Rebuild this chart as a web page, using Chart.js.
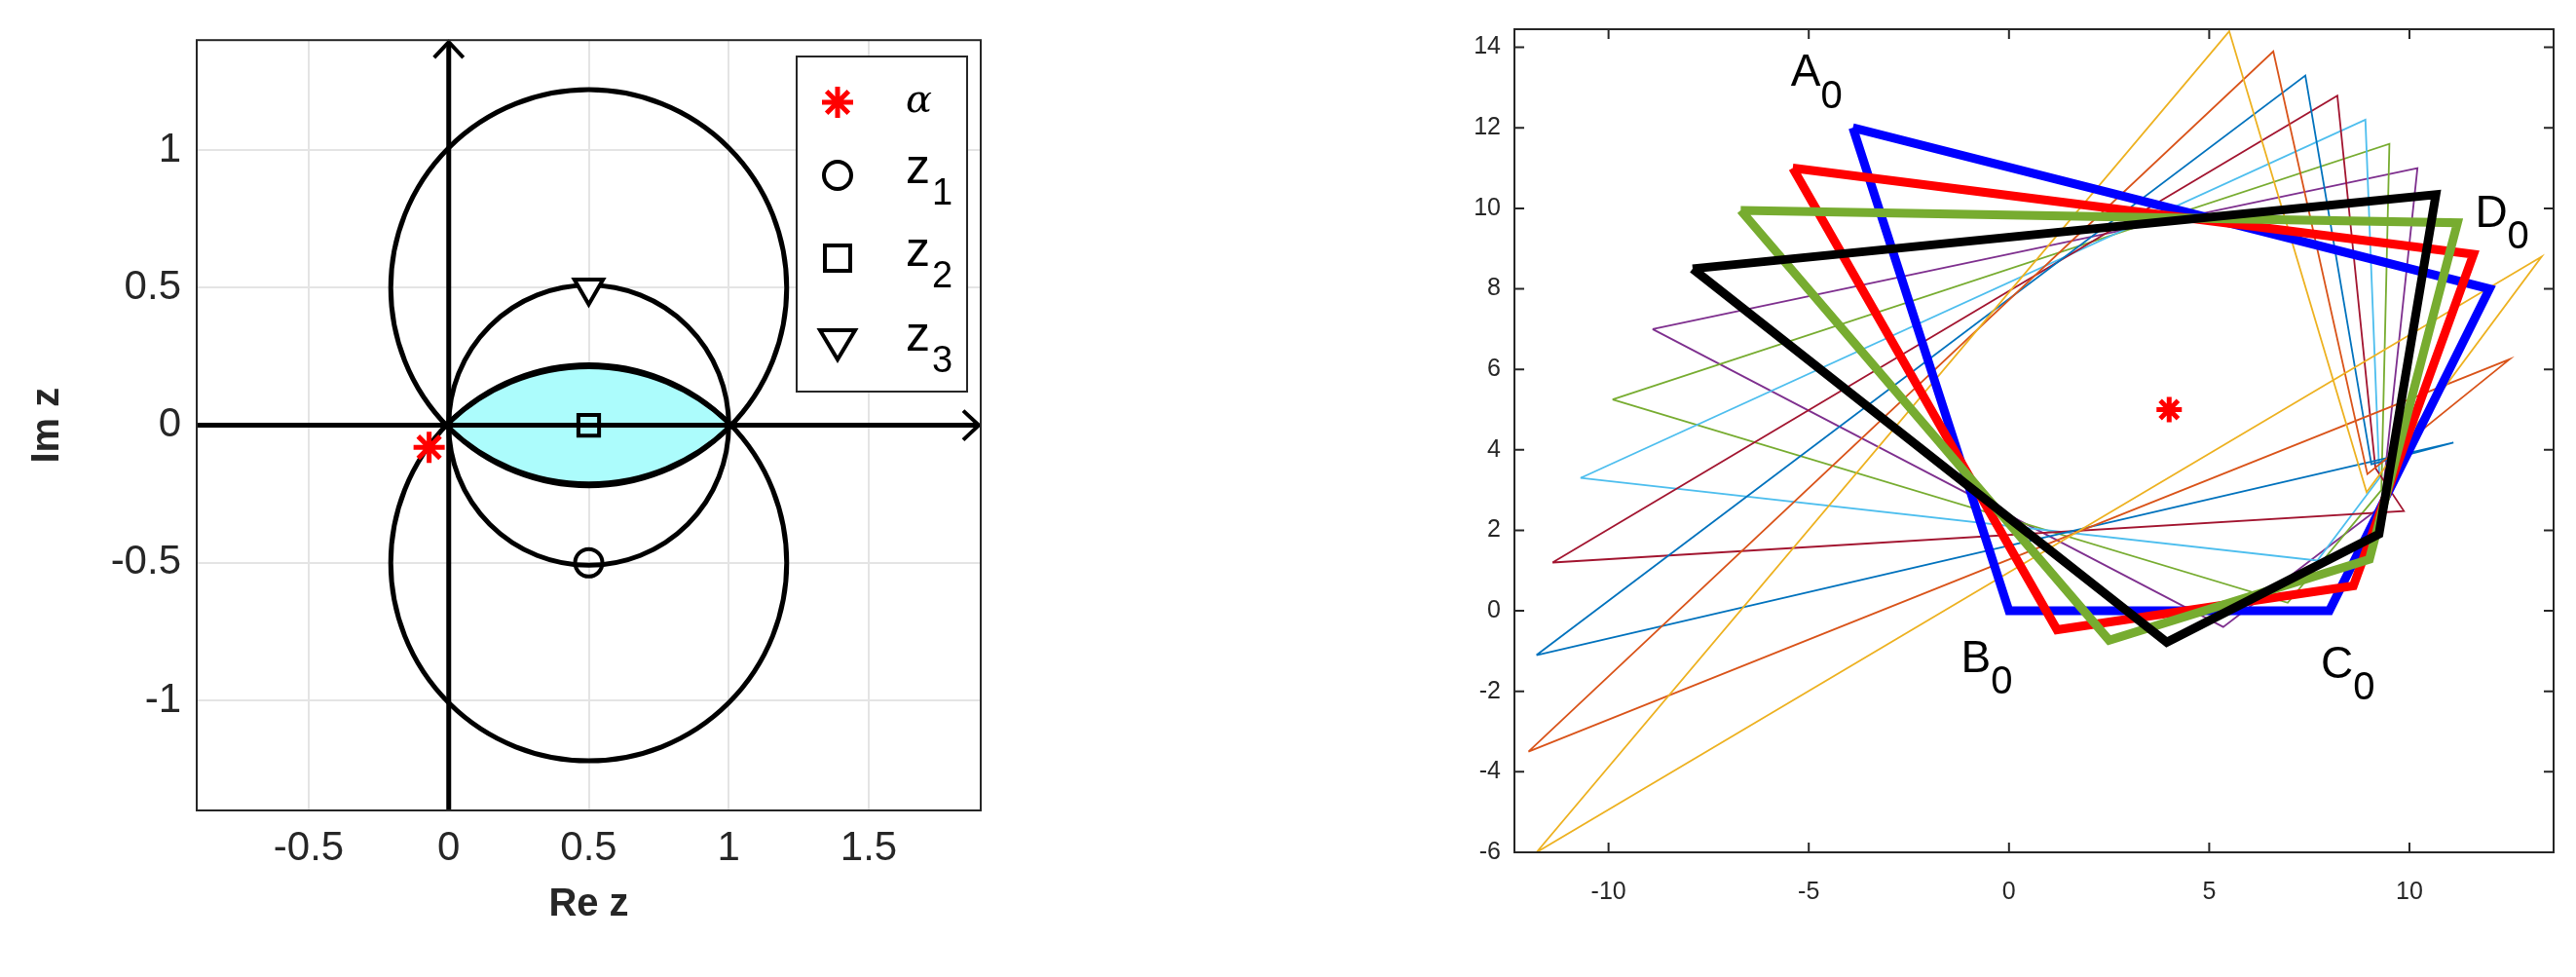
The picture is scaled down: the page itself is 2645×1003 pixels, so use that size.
<!DOCTYPE html>
<html>
<head>
<meta charset="utf-8">
<script src="https://cdn.jsdelivr.net/npm/chart.js@4"></script>
<style>
  body { margin: 0; background: #fff; width: 2645px; height: 1003px; position: relative; overflow: hidden; }
  .pane { position: absolute; top: 0; height: 1003px; }
</style>
</head>
<body>
<div class="pane" style="left:0;width:1030px"><canvas id="left"></canvas></div>
<div class="pane" style="left:1500px;width:1145px"><canvas id="right"></canvas></div>
<script>
// ---- left panel data ----
const leftXTicks = [-0.5, 0, 0.5, 1, 1.5];
const leftYTicks = [-1, -0.5, 0, 0.5, 1];
const alphaPt = [{x: -0.07, y: -0.08}];
const z1Pt = [{x: 0.5, y: -0.5}];
const z2Pt = [{x: 0.5, y: 0}];
const z3Pt = [{x: 0.5, y: 0.5}];
const circleCx = [0.5, 0.5, 0.5];
const circleCy = [0.5, -0.5, 0];
const circleR = [0.707, 0.707, 0.5];
// lens: upper arc from circle below, lower arc from circle above
const lensCy = [-0.525, 0.525];
const lensR = 0.725;

// ---- right panel data ----
const rightXTicks = [-10, -5, 0, 5, 10];
const rightYTicks = [-6, -4, -2, 0, 2, 4, 6, 8, 10, 12, 14];
const thinColors = ['#EDB120', '#D95319', '#0072BD', '#A2142F', '#4DBEEE', '#77AC30', '#7E2F8E'];
const thinQuads = [
  [[-11.8, -6.0], [13.3, 8.8], [8.93, 2.95], [5.5, 14.4]],
  [[-12.0, -3.5], [12.5, 6.25], [8.95, 3.4], [6.6, 13.9]],
  [[-11.8, -1.1], [11.1, 4.18], [9.05, 3.64], [7.4, 13.3]],
  [[-11.4, 1.2], [9.86, 2.48], [9.15, 3.55], [8.2, 12.8]],
  [[-10.7, 3.3], [7.7, 1.25], [9.25, 3.3], [8.9, 12.2]],
  [[-9.9, 5.25], [6.96, 0.2], [9.3, 3.0], [9.5, 11.6]],
  [[-8.9, 7.0], [5.35, -0.4], [9.3, 2.6], [10.2, 11.0]]
];
const thickColors = ['#0000FF', '#FF0000', '#77AC30', '#000000'];
const thickQuads = [
  [[-3.9, 12.0], [0, 0], [8, 0], [12.0, 8.0]],
  [[-5.4, 11.0], [1.2, -0.47], [8.6, 0.62], [11.6, 8.86]],
  [[-6.7, 9.95], [2.5, -0.73], [9.0, 1.28], [11.2, 9.64]],
  [[-7.9, 8.5], [3.94, -0.78], [9.24, 1.91], [10.66, 10.34]]
];
const centerPt = [{x: 4, y: 5}];
const vertexLabels = [
  {t: 'A', x: -4.8, y: 13.15},
  {t: 'B', x: -0.55, y: -1.4},
  {t: 'C', x: 8.5, y: -1.55},
  {t: 'D', x: 12.35, y: 9.65}
];

function closed(q) { return q.concat([q[0]]).map(p => ({x: p[0], y: p[1]})); }

function setTicks(list) {
  return function(scale) { scale.ticks = list.map(v => ({value: v})); };
}

// ---- left panel ----
const leftPlugin = {
  id: 'leftDraw',
  beforeDatasetsDraw(chart) {
    const ctx = chart.ctx, xs = chart.scales.x, ys = chart.scales.y;
    const s = xs.getPixelForValue(1) - xs.getPixelForValue(0);
    const a = chart.chartArea;
    ctx.save();
    // lens
    ctx.beginPath();
    const c1x = xs.getPixelForValue(0.5), c1y = ys.getPixelForValue(lensCy[0]);
    const c2y = ys.getPixelForValue(lensCy[1]);
    const ang = Math.atan2(0.525, 0.5);
    ctx.arc(c1x, c1y, lensR * s, -Math.PI + ang, -ang, false);
    ctx.arc(c1x, c2y, lensR * s, ang, Math.PI - ang, false);
    ctx.closePath();
    ctx.fillStyle = '#acfcfc';
    ctx.fill();
    ctx.lineWidth = 5;
    ctx.strokeStyle = '#000';
    ctx.stroke();
    // circles
    for (let i = 0; i < circleCx.length; i++) {
      ctx.beginPath();
      ctx.arc(xs.getPixelForValue(circleCx[i]), ys.getPixelForValue(circleCy[i]), circleR[i] * s, 0, Math.PI * 2);
      ctx.stroke();
    }
    // axes arrows
    const x0 = xs.getPixelForValue(0), y0 = ys.getPixelForValue(0);
    ctx.lineWidth = 5;
    ctx.beginPath();
    ctx.moveTo(a.left, y0); ctx.lineTo(a.right - 2, y0);
    ctx.moveTo(x0, a.bottom); ctx.lineTo(x0, a.top + 2);
    ctx.stroke();
    ctx.lineWidth = 4;
    ctx.beginPath();
    ctx.moveTo(a.right - 18, y0 - 15); ctx.lineTo(a.right - 2, y0); ctx.lineTo(a.right - 18, y0 + 15);
    ctx.moveTo(x0 - 15, a.top + 18); ctx.lineTo(x0, a.top + 2); ctx.lineTo(x0 + 15, a.top + 18);
    ctx.stroke();
    ctx.restore();
  },
  afterDraw(chart) {
    const ctx = chart.ctx, a = chart.chartArea;
    ctx.save();
    ctx.strokeStyle = '#262626';
    ctx.lineWidth = 2;
    ctx.strokeRect(a.left, a.top, a.right - a.left, a.bottom - a.top);
    // legend
    const bx = 818, by = 58, bw = 175, bh = 344;
    ctx.fillStyle = '#fff';
    ctx.fillRect(bx, by, bw, bh);
    ctx.strokeRect(bx, by, bw, bh);
    const rows = [105, 180, 265, 352];
    const mx = 860;
    // alpha asterisk
    ctx.strokeStyle = '#f00'; ctx.lineWidth = 5;
    ctx.beginPath();
    for (let k = 0; k < 4; k++) {
      const t = k * Math.PI / 4;
      ctx.moveTo(mx - 16 * Math.cos(t), rows[0] - 16 * Math.sin(t));
      ctx.lineTo(mx + 16 * Math.cos(t), rows[0] + 16 * Math.sin(t));
    }
    ctx.stroke();
    ctx.strokeStyle = '#000'; ctx.lineWidth = 4;
    ctx.beginPath(); ctx.arc(mx, rows[1], 14, 0, Math.PI * 2); ctx.stroke();
    ctx.strokeRect(mx - 13, rows[2] - 13, 26, 26);
    ctx.beginPath();
    ctx.moveTo(mx - 18, rows[3] - 13); ctx.lineTo(mx + 18, rows[3] - 13); ctx.lineTo(mx, rows[3] + 17); ctx.closePath(); ctx.stroke();
    ctx.fillStyle = '#000';
    ctx.textBaseline = 'middle';
    ctx.font = 'italic 40px "DejaVu Serif"';
    ctx.fillText('α', 930, rows[0]);
    for (let i = 1; i <= 3; i++) {
      ctx.font = '50px "Liberation Sans"';
      ctx.fillText('z', 930, rows[i] - 6);
      ctx.font = '38px "Liberation Sans"';
      ctx.fillText(String(i), 957, rows[i] + 20);
    }
    ctx.restore();
  }
};

new Chart(document.getElementById('left'), {
  type: 'scatter',
  data: {
    datasets: [
      {data: alphaPt, pointStyle: 'star', pointRadius: 16, borderColor: '#f00', borderWidth: 5},
      {data: z1Pt, pointStyle: 'circle', pointRadius: 14, borderColor: '#000', backgroundColor: 'rgba(0,0,0,0)', borderWidth: 4},
      {data: z2Pt, pointStyle: 'rect', pointRadius: 15, borderColor: '#000', backgroundColor: 'rgba(0,0,0,0)', borderWidth: 4},
      {data: z3Pt, pointStyle: 'triangle', rotation: 180, pointRadius: 17, borderColor: '#000', backgroundColor: '#fff', borderWidth: 4}
    ]
  },
  options: {
    responsive: true, maintainAspectRatio: false, animation: false,
    layout: {padding: {left: 25, right: 23, top: 31, bottom: 50}},
    plugins: {legend: {display: false}, tooltip: {enabled: false}},
    scales: {
      x: {
        min: -0.9, max: 1.9,
        afterBuildTicks: setTicks(leftXTicks),
        afterFit: s => { s.height = 121; },
        grid: {color: '#e4e4e4', lineWidth: 2, drawTicks: false},
        border: {display: false},
        ticks: {color: '#262626', font: {family: 'Liberation Sans', size: 42}, padding: 14, callback: v => String(v)},
        title: {display: true, text: 'Re z', color: '#262626', font: {family: 'Liberation Sans', size: 40, weight: 'bold'}, padding: 0}
      },
      y: {
        min: -1.4, max: 1.4,
        afterBuildTicks: setTicks(leftYTicks),
        afterFit: s => { s.width = 177; },
        grid: {color: '#e4e4e4', lineWidth: 2, drawTicks: false},
        border: {display: false},
        ticks: {color: '#262626', font: {family: 'Liberation Sans', size: 42}, padding: 16, callback: v => String(v)},
        title: {display: true, text: 'Im z', color: '#262626', font: {family: 'Liberation Sans', size: 40, weight: 'bold'}, padding: 0}
      }
    }
  },
  plugins: [leftPlugin]
});

// ---- right panel ----
const rightDatasets = [];
thinQuads.forEach((q, i) => rightDatasets.push({
  data: closed(q), showLine: true, borderColor: thinColors[i], borderWidth: 1.8, pointRadius: 0, order: 10
}));
thickQuads.forEach((q, i) => rightDatasets.push({
  data: closed(q), showLine: true, borderColor: thickColors[i], borderWidth: 9, pointRadius: 0, order: 5 - i,
  borderJoinStyle: 'miter'
}));
rightDatasets.push({data: centerPt, pointStyle: 'star', pointRadius: 13, borderColor: '#f00', borderWidth: 5, order: 0});

const rightPlugin = {
  id: 'rightDraw',
  afterDraw(chart) {
    const ctx = chart.ctx, a = chart.chartArea, xs = chart.scales.x, ys = chart.scales.y;
    ctx.save();
    ctx.strokeStyle = '#262626';
    ctx.lineWidth = 2;
    ctx.strokeRect(a.left, a.top, a.right - a.left, a.bottom - a.top);
    ctx.beginPath();
    rightXTicks.forEach(v => {
      const p = xs.getPixelForValue(v);
      ctx.moveTo(p, a.bottom); ctx.lineTo(p, a.bottom - 10);
      ctx.moveTo(p, a.top); ctx.lineTo(p, a.top + 10);
    });
    rightYTicks.forEach(v => {
      const p = ys.getPixelForValue(v);
      ctx.moveTo(a.left, p); ctx.lineTo(a.left + 10, p);
      ctx.moveTo(a.right, p); ctx.lineTo(a.right - 10, p);
    });
    ctx.stroke();
    ctx.fillStyle = '#000';
    ctx.textBaseline = 'middle';
    vertexLabels.forEach(l => {
      const px = xs.getPixelForValue(l.x), py = ys.getPixelForValue(l.y);
      ctx.font = '46px "Liberation Sans"';
      ctx.textAlign = 'right';
      ctx.fillText(l.t, px + 4, py - 8);
      ctx.textAlign = 'left';
      ctx.font = '40px "Liberation Sans"';
      ctx.fillText('0', px + 4, py + 16);
    });
    ctx.restore();
  }
};

new Chart(document.getElementById('right'), {
  type: 'scatter',
  data: {datasets: rightDatasets},
  options: {
    responsive: true, maintainAspectRatio: false, animation: false,
    layout: {padding: {left: 0, right: 23, top: 30, bottom: 40}},
    plugins: {legend: {display: false}, tooltip: {enabled: false}},
    scales: {
      x: {
        min: -12.35, max: 13.6,
        afterBuildTicks: setTicks(rightXTicks),
        afterFit: s => { s.height = 88; },
        grid: {display: false},
        border: {display: false},
        ticks: {color: '#262626', font: {family: 'Liberation Sans', size: 25}, padding: 18, callback: v => String(v)}
      },
      y: {
        min: -6, max: 14.45,
        afterBuildTicks: setTicks(rightYTicks),
        afterFit: s => { s.width = 55; },
        grid: {display: false},
        border: {display: false},
        ticks: {color: '#262626', font: {family: 'Liberation Sans', size: 25}, padding: 6, callback: v => String(v)}
      }
    }
  },
  plugins: [rightPlugin]
});
</script>
</body>
</html>
